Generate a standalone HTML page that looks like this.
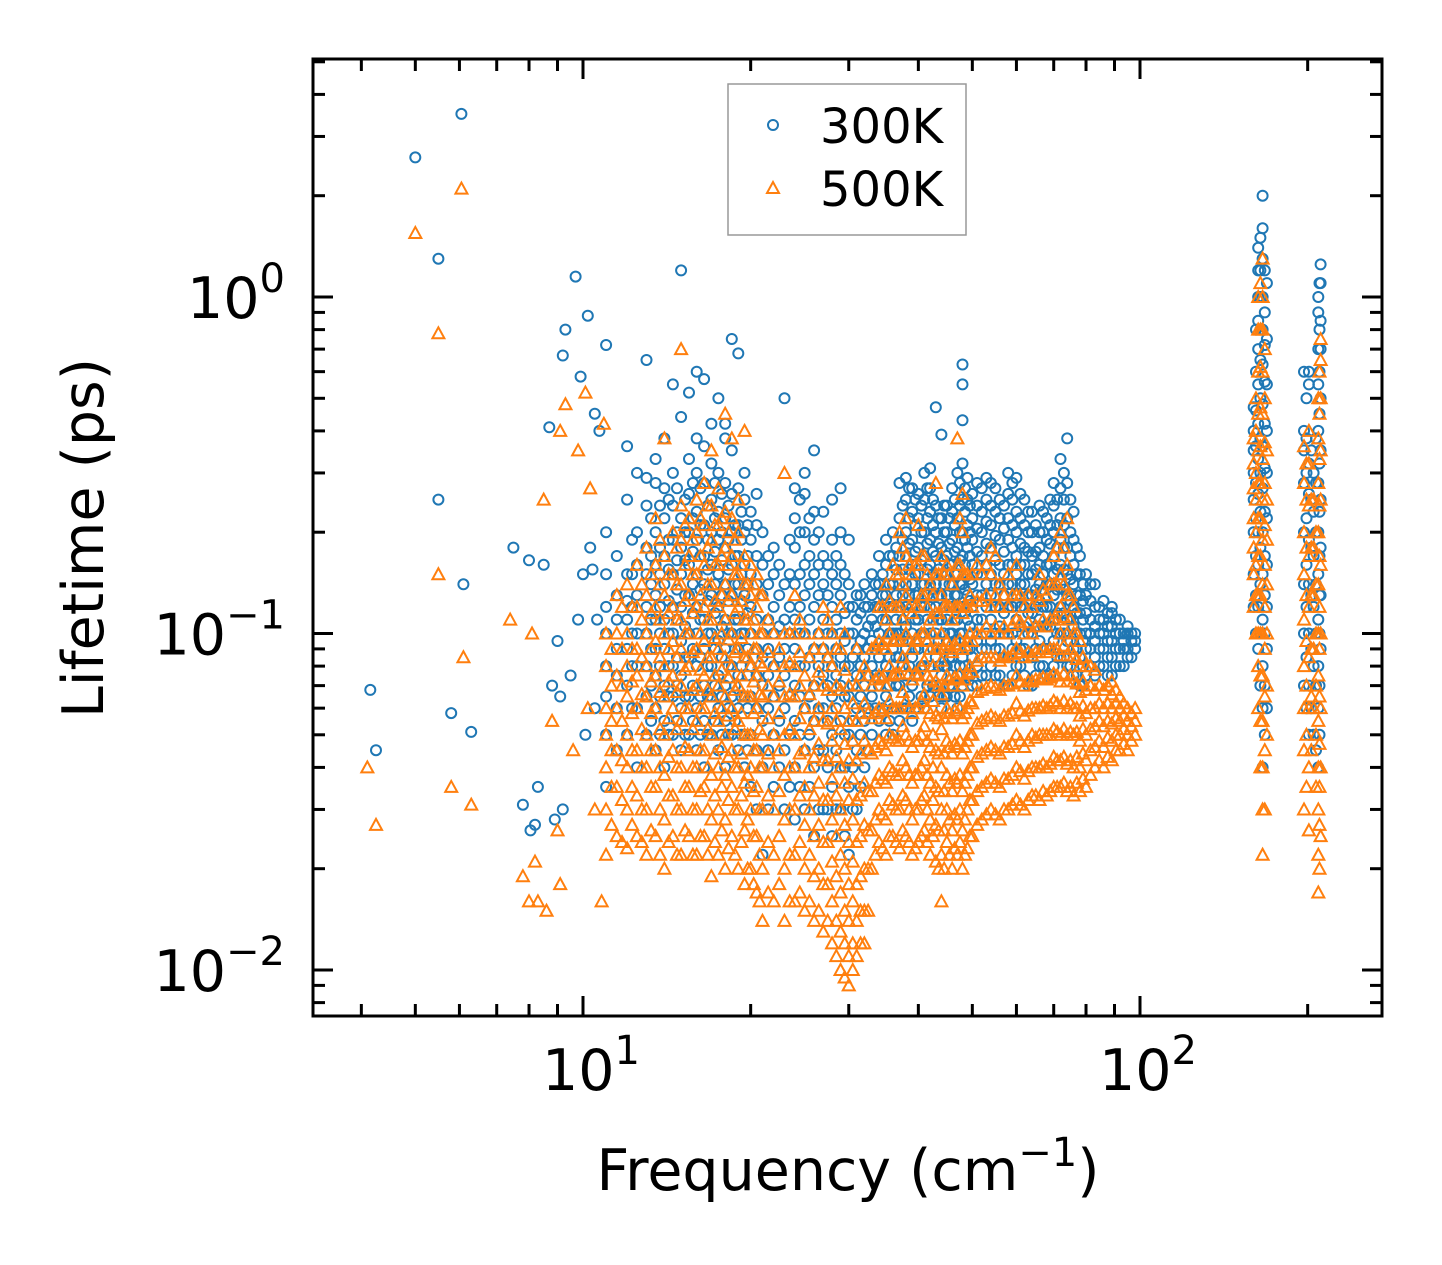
<!DOCTYPE html>
<html><head><meta charset="utf-8">
<style>
html,body{margin:0;padding:0;background:#fff;}
svg{display:block;font-family:"DejaVu Sans","Liberation Sans",sans-serif;}
</style></head>
<body>
<svg id="chart" width="1442" height="1265" viewBox="0 0 1442 1265" xmlns="http://www.w3.org/2000/svg">
<rect width="1442" height="1265" fill="#fff"/>
<defs><clipPath id="plotclip"><rect x="313" y="59" width="1069" height="957"/></clipPath></defs>
<g id="marks" clip-path="url(#plotclip)"></g>
<g id="axes"></g>
<rect x="313" y="59" width="1069" height="957" fill="none" stroke="#000" stroke-width="3"/>
<g>
<rect x="728" y="84" width="238" height="151" fill="#fff" fill-opacity="0.8" stroke="#999" stroke-width="1.5"/>
<circle cx="773" cy="125" r="5" fill="none" stroke="#1f77b4" stroke-width="2"/>
<text x="820" y="143" font-size="48">300K</text>
<polygon points="773,182 779,193 767,193" fill="none" stroke="#ff7f0e" stroke-width="2"/>
<text x="820" y="206" font-size="48">500K</text>
</g>
<text x="848" y="1190" font-size="57" text-anchor="middle">Frequency (cm<tspan dy="-24" font-size="40">−1</tspan><tspan dy="24">)</tspan></text>
<text transform="translate(103,538) rotate(-90)" font-size="57" text-anchor="middle">Lifetime (ps)</text>
</svg>
<script>
const xTickVals = [10, 100];
const xTickLabels = ["1", "2"];
const yTickVals = [1, 0.1, 0.01];
const yTickLabels = ["0", "−1", "−2"];

const blueOutliers = [[4.15,0.068],[4.25,0.045],[5.0,2.6],[5.5,1.3],[5.5,0.25],[5.8,0.058],[6.05,3.5],[6.1,0.14],[6.3,0.051],[7.5,0.18],[7.8,0.031],[8.0,0.165],[8.05,0.026],[8.2,0.027],[8.3,0.035],[8.5,0.16],[8.7,0.41],[8.8,0.07],[9.0,0.095],[9.1,0.065],[9.2,0.67],[9.3,0.80],[9.5,0.075],[9.7,1.15],[9.8,0.11],[9.9,0.58],[10.0,0.15],[10.2,0.88],[10.3,0.18],[10.5,0.45],[10.7,0.40],[11.0,0.72],[10.4,0.155],[10.5,0.06],[9.2,0.03],[8.9,0.028],[10.1,0.05],[10.6,0.11]];
const orangeOutliers = [[4.1,0.04],[4.25,0.027],[5.0,1.55],[5.5,0.78],[5.5,0.15],[5.8,0.035],[6.05,2.1],[6.1,0.085],[6.3,0.031],[7.4,0.11],[7.8,0.019],[8.0,0.016],[8.1,0.1],[8.2,0.021],[8.3,0.016],[8.5,0.25],[8.6,0.015],[8.8,0.055],[9.0,0.026],[9.1,0.018],[9.3,0.48],[9.1,0.4],[9.8,0.35],[10.1,0.52],[10.3,0.27],[10.9,0.42],[10.8,0.016],[9.6,0.045],[10.2,0.06],[10.5,0.03]];

const blueCols = [
[11.0,[.035,.05,.065,.08,.1,.12,.15,.2]],
[11.5,[.045,.06,.075,.09,.11,.13,.17]],
[12.0,[.05,.07,.09,.11,.125,.15,.25,.36]],
[12.5,[.04,.06,.08,.1,.13,.16,.2,.3]],
[13.0,[.05,.065,.08,.1,.12,.15,.18,.24,.29,.65]],
[13.5,[.045,.06,.075,.09,.11,.13,.16,.2,.28,.33]],
[14.0,[.04,.055,.07,.09,.11,.14,.17,.22,.27,.38]],
[14.5,[.05,.065,.08,.1,.12,.15,.19,.24,.3,.55]],
[15.0,[.045,.06,.075,.095,.12,.15,.18,.22,.44,1.2]],
[15.5,[.05,.065,.085,.1,.13,.16,.2,.26,.33,.52]],
[16.0,[.045,.06,.08,.1,.12,.15,.19,.23,.3,.38,.6]],
[16.5,[.04,.055,.07,.09,.11,.14,.17,.21,.28,.36,.57]],
[17.0,[.05,.065,.08,.1,.13,.16,.2,.25,.32,.42]],
[17.5,[.045,.06,.075,.095,.12,.15,.19,.23,.3,.5]],
[18.0,[.04,.055,.07,.09,.11,.14,.18,.22,.28,.38,.42]],
[18.5,[.05,.065,.08,.1,.13,.16,.2,.26,.35,.75]],
[19.0,[.045,.06,.075,.09,.11,.14,.17,.21,.27,.68]],
[19.5,[.04,.05,.065,.085,.1,.13,.16,.2,.25,.3]],
[20.0,[.035,.05,.065,.08,.1,.12,.15,.19,.23]],
[20.5,[.03,.045,.06,.075,.09,.11,.14,.17,.21,.26]],
[21.0,[.022,.04,.055,.07,.085,.1,.13,.16,.2]],
[22.0,[.035,.05,.065,.08,.1,.12,.15,.18]],
[23.0,[.03,.045,.06,.075,.09,.11,.14,.5]],
[24.0,[.028,.04,.055,.07,.09,.11,.14,.18,.22,.27]],
[25.0,[.03,.045,.06,.08,.1,.13,.16,.2,.26,.3]],
[26.0,[.025,.04,.055,.07,.09,.12,.15,.19,.23,.35]],
[27.0,[.03,.045,.06,.075,.09,.11,.14,.17,.23]],
[28.0,[.025,.035,.05,.065,.08,.1,.12,.15,.19,.25]],
[29.0,[.03,.04,.055,.07,.085,.1,.13,.16,.2,.27]],
[30.0,[.022,.035,.05,.065,.08,.1,.12,.14,.19]],
[31.0,[.03,.045,.06,.075,.09,.11,.13]],
[32.0,[.04,.055,.07,.085,.1,.12,.14]],
[33.0,[.05,.065,.08,.095,.11,.13,.15]],
[34.0,[.055,.07,.085,.1,.12,.14,.17]],
[35.0,[.05,.065,.08,.095,.11,.13,.16,.19]],
[36.0,[.05,.06,.075,.09,.1,.12,.14,.17,.2]],
[37.0,[.055,.07,.085,.1,.12,.14,.17,.22,.28]],
[38.0,[.06,.075,.09,.105,.12,.14,.17,.2,.25,.29]],
[39.0,[.055,.07,.085,.1,.12,.14,.16,.19,.23,.27]],
[40.0,[.06,.075,.09,.11,.13,.15,.18,.22,.26]],
[41.0,[.06,.08,.1,.12,.14,.17,.2,.25,.3]],
[42.0,[.065,.08,.1,.12,.14,.16,.19,.23,.27,.31]],
[43.0,[.07,.085,.1,.12,.14,.17,.2,.24,.47]],
[44.0,[.06,.075,.09,.11,.13,.15,.18,.22,.39]],
[45.0,[.065,.08,.095,.11,.13,.15,.17,.2,.24]],
[46.0,[.07,.085,.1,.12,.14,.16,.19,.23,.27]],
[47.0,[.06,.075,.09,.11,.13,.15,.18,.22,.3]],
[48.0,[.07,.085,.1,.12,.14,.17,.2,.25,.32,.43,.55,.63]],
[49.0,[.075,.09,.11,.13,.15,.18,.21,.25,.29]],
[50.0,[.07,.085,.1,.12,.14,.16,.19,.22,.26]],
[52.0,[.075,.09,.11,.13,.15,.17,.2,.23,.27]],
[54.0,[.08,.095,.11,.13,.15,.18,.21,.24,.28]],
[56.0,[.075,.09,.105,.12,.14,.16,.19,.22,.25]],
[58.0,[.07,.085,.1,.12,.14,.16,.19,.22,.26,.3]],
[60.0,[.08,.095,.11,.13,.15,.17,.2,.23,.29]],
[62.0,[.075,.09,.105,.12,.14,.16,.18,.21,.25]],
[64.0,[.07,.085,.1,.115,.13,.15,.17,.2,.23]],
[66.0,[.08,.095,.11,.125,.14,.16,.18,.2,.24]],
[68.0,[.075,.09,.105,.12,.14,.16,.19,.22]],
[70.0,[.08,.095,.11,.13,.15,.17,.2,.24,.28]],
[72.0,[.085,.1,.12,.14,.16,.19,.22,.27,.33]],
[74.0,[.08,.095,.11,.13,.15,.18,.22,.28,.38]],
[76.0,[.075,.09,.105,.12,.14,.16,.19,.23]],
[78.0,[.07,.085,.1,.115,.13,.15,.17]],
[80.0,[.075,.09,.1,.115,.13,.15]],
[83.0,[.075,.085,.095,.105,.12,.14]],
[86.0,[.08,.09,.1,.11,.125]],
[89.0,[.075,.085,.095,.105,.115,.12]],
[92.0,[.08,.09,.1,.11]],
[95.0,[.085,.09,.1,.105]],
[98.0,[.09,.095,.1]],
[160,[.12,.15,.2,.25,.3,.35,.4,.47]],
[163,[.09,.12,.16,.2,.26,.33,.42,.55,.7,.85,1.0,1.2,1.4]],
[166,[.04,.06,.08,.11,.15,.2,.27,.36,.48,.63,.8,1.0,1.3,1.6,2.0]],
[169,[.06,.09,.12,.16,.22,.3,.4,.55,.75,1.1]],
[197,[.07,.1,.14,.2,.28,.35,.4,.6]],
[201,[.05,.07,.1,.14,.19,.26,.32,.55,.6]],
[205,[.05,.08,.12,.17,.23,.3]],
[209,[.04,.06,.08,.11,.15,.2,.28,.4,.55,.7,.9,1.0]],
[211,[.09,.13,.18,.25,.35,.5,.7,.85,1.1,1.25]]
];

const blueCols2 = [
[12.25,[.06,.08,.1,.12,.15,.19]],
[13.25,[.055,.07,.09,.11,.14,.17,.22]],
[13.75,[.05,.065,.08,.1,.12,.15,.18,.24]],
[14.25,[.05,.065,.08,.1,.125,.155,.19,.25]],
[14.75,[.055,.07,.085,.11,.135,.165,.2,.27]],
[15.25,[.05,.065,.085,.105,.13,.165,.2,.25]],
[15.75,[.055,.07,.09,.115,.14,.175,.22,.28]],
[16.25,[.05,.065,.085,.11,.135,.17,.21,.27]],
[16.75,[.05,.065,.08,.1,.125,.155,.19,.24]],
[17.25,[.055,.07,.09,.115,.14,.175,.22,.28]],
[17.75,[.05,.065,.085,.105,.13,.165,.2,.26]],
[18.25,[.05,.06,.08,.1,.125,.155,.19,.24]],
[18.75,[.055,.07,.09,.11,.14,.17,.21]],
[19.25,[.05,.065,.08,.1,.125,.15,.19,.23]],
[19.75,[.045,.06,.075,.09,.115,.14,.17,.21]],
[21.5,[.03,.045,.06,.075,.09,.11,.14,.17]],
[22.5,[.04,.055,.07,.085,.105,.13,.16]],
[23.5,[.035,.05,.065,.08,.1,.12,.15,.19]],
[24.5,[.035,.05,.065,.08,.1,.12,.15,.2,.25]],
[25.5,[.035,.05,.065,.085,.11,.14,.17,.22]],
[26.5,[.03,.045,.06,.08,.1,.13,.16,.2]],
[27.5,[.03,.04,.055,.07,.085,.1,.13,.16]],
[28.5,[.03,.045,.06,.075,.09,.11,.14,.17]],
[29.5,[.025,.04,.05,.065,.08,.095,.115,.15]],
[30.5,[.03,.04,.055,.07,.085,.1,.12]],
[31.5,[.035,.05,.065,.08,.095,.115,.13]],
[32.5,[.045,.06,.075,.09,.105,.12]],
[33.5,[.06,.075,.09,.105,.12,.14]],
[34.5,[.06,.075,.09,.11,.13,.15]],
[35.5,[.055,.07,.085,.1,.12,.14,.17]],
[36.5,[.06,.07,.085,.1,.11,.13,.155,.18]],
[37.5,[.06,.08,.095,.11,.13,.155,.19,.24]],
[38.5,[.065,.08,.095,.115,.13,.155,.185,.22,.27]],
[39.5,[.06,.075,.09,.11,.13,.15,.175,.21,.25]],
[40.5,[.065,.08,.1,.12,.14,.165,.2,.24]],
[41.5,[.07,.09,.11,.13,.155,.185,.22,.27]],
[42.5,[.07,.09,.11,.13,.15,.175,.21,.25]],
[43.5,[.065,.08,.095,.11,.13,.155,.185,.22]],
[44.5,[.065,.08,.1,.12,.14,.165,.2,.24]],
[45.5,[.07,.085,.1,.12,.14,.16,.185,.22]],
[46.5,[.065,.08,.095,.11,.13,.15,.175,.21,.25]],
[47.5,[.065,.08,.1,.12,.14,.165,.2,.24,.28]],
[48.5,[.08,.095,.115,.135,.16,.19,.23,.27]],
[49.5,[.075,.09,.105,.125,.145,.17,.2,.24]],
[51,[.07,.08,.095,.11,.13,.15,.175,.205,.24,.28]],
[53,[.075,.09,.1,.12,.14,.16,.185,.215,.25,.29]],
[55,[.075,.09,.1,.12,.14,.165,.195,.23,.27]],
[57,[.07,.085,.1,.115,.13,.15,.175,.205,.24]],
[59,[.075,.09,.1,.12,.14,.16,.18,.21,.25,.28]],
[61,[.08,.09,.105,.12,.14,.16,.185,.22,.26]],
[63,[.07,.085,.1,.115,.13,.15,.175,.2,.23]],
[65,[.075,.09,.105,.12,.135,.155,.175,.21]],
[67,[.08,.09,.105,.12,.135,.15,.17,.2,.23]],
[69,[.075,.09,.105,.12,.14,.16,.185,.21,.25]],
[71,[.085,.1,.115,.135,.155,.18,.21,.25]],
[73,[.085,.1,.115,.135,.155,.18,.21,.25,.3]],
[75,[.08,.095,.11,.125,.145,.17,.2,.25]],
[77,[.075,.09,.1,.115,.13,.15,.18]],
[79,[.07,.08,.095,.11,.125,.14]],
[81.5,[.08,.09,.1,.11,.125,.14]],
[84.5,[.08,.09,.1,.11,.12]],
[87.5,[.075,.085,.095,.105,.115]],
[90.5,[.08,.09,.1,.11]],
[93.5,[.08,.09,.095,.1]],
[96.5,[.085,.095,.1]],
[161.5,[.1,.13,.17,.22,.28,.36,.46,.6,.8]],
[164.5,[.07,.1,.14,.18,.23,.3,.38,.5,.65,.8,1.0,1.2,1.5]],
[167.5,[.05,.07,.1,.13,.17,.23,.31,.42,.56,.72,.9,1.2]],
[199,[.06,.085,.12,.16,.22,.3,.38,.5]],
[203,[.06,.09,.13,.18,.25,.35]],
[207,[.045,.07,.1,.14,.2,.28,.38]],
[210,[.05,.07,.1,.13,.17,.23,.32,.45,.6,.8,1.1]]
];

const orangeCols = [
[11.0,[.022,.03,.04,.05,.06,.08,.1]],
[11.5,[.025,.035,.045,.06,.075,.1,.13]],
[12.0,[.023,.03,.04,.05,.065,.08,.1,.14]],
[12.5,[.025,.033,.045,.06,.075,.09,.12,.16]],
[13.0,[.022,.03,.04,.05,.065,.08,.1,.13,.18]],
[13.5,[.025,.035,.045,.06,.075,.095,.12,.16,.22]],
[14.0,[.02,.028,.038,.05,.065,.08,.1,.13,.17,.38]],
[14.5,[.025,.033,.045,.06,.075,.095,.12,.15,.2]],
[15.0,[.022,.03,.04,.055,.07,.09,.11,.14,.19,.24,.7]],
[15.5,[.025,.035,.045,.06,.08,.1,.13,.17,.22]],
[16.0,[.022,.03,.04,.055,.07,.09,.12,.15,.2,.25]],
[16.5,[.025,.035,.045,.06,.075,.095,.12,.16,.21,.28]],
[17.0,[.019,.028,.038,.05,.065,.085,.11,.14,.19,.24,.35]],
[17.5,[.022,.03,.04,.055,.07,.09,.12,.16,.21,.27]],
[18.0,[.02,.028,.038,.05,.065,.085,.11,.14,.18,.23,.45]],
[18.5,[.025,.035,.045,.06,.08,.1,.13,.17,.22,.38]],
[19.0,[.02,.03,.04,.055,.07,.09,.12,.15,.2,.25]],
[19.5,[.018,.026,.036,.05,.065,.085,.11,.14,.17,.4]],
[20.0,[.02,.03,.04,.05,.065,.08,.1,.13,.16]],
[20.5,[.017,.025,.035,.045,.06,.075,.09,.12,.15]],
[21.0,[.014,.02,.03,.04,.05,.065,.08,.1,.13]],
[22.0,[.016,.022,.03,.04,.05,.065,.08,.1]],
[23.0,[.014,.02,.028,.038,.05,.065,.08,.1,.3]],
[24.0,[.016,.022,.03,.04,.05,.065,.08,.1,.13]],
[25.0,[.015,.02,.027,.035,.045,.06,.075,.1]],
[26.0,[.014,.019,.025,.033,.043,.055,.07,.09]],
[27.0,[.013,.018,.024,.032,.042,.055,.07,.09,.12]],
[28.0,[.012,.016,.021,.028,.037,.048,.06,.08,.1]],
[29.0,[.01,.013,.017,.022,.03,.04,.052,.068,.09,.12]],
[30.0,[.009,.011,.014,.018,.024,.032,.042,.055,.07]],
[31.0,[.011,.014,.018,.024,.032,.042,.055,.07,.09]],
[32.0,[.012,.015,.02,.027,.036,.048,.062,.08]],
[33.0,[.02,.026,.034,.044,.056,.07,.09]],
[34.0,[.024,.03,.038,.048,.06,.075,.095,.12]],
[35.0,[.022,.028,.036,.045,.056,.07,.09,.11,.14]],
[36.0,[.025,.031,.039,.049,.06,.075,.095,.12,.16]],
[37.0,[.023,.03,.038,.048,.06,.076,.095,.12,.15,.2]],
[38.0,[.025,.032,.04,.05,.063,.08,.1,.13,.17,.22]],
[39.0,[.022,.028,.036,.046,.058,.073,.09,.115,.15]],
[40.0,[.024,.03,.038,.048,.06,.075,.095,.12,.16,.21]],
[41.0,[.026,.033,.042,.053,.066,.083,.1,.13,.17]],
[42.0,[.022,.028,.036,.046,.058,.073,.09,.11,.14]],
[43.0,[.021,.027,.035,.045,.057,.072,.09,.115,.15,.28]],
[44.0,[.016,.022,.03,.04,.052,.066,.083,.1,.13,.17]],
[45.0,[.024,.03,.038,.048,.06,.075,.095,.12,.16]],
[46.0,[.02,.026,.034,.044,.056,.07,.088,.11,.14]],
[47.0,[.022,.028,.036,.046,.058,.073,.09,.12,.16,.38]],
[48.0,[.02,.026,.034,.044,.056,.07,.09,.115,.15,.2,.26]],
[49.0,[.023,.03,.038,.048,.06,.076,.095,.12,.15]],
[50.0,[.025,.032,.04,.05,.062,.077,.095,.12,.15]],
[52.0,[.028,.035,.044,.055,.068,.085,.1,.125,.15]],
[54.0,[.03,.037,.046,.057,.07,.085,.1,.12,.15,.18]],
[56.0,[.028,.035,.044,.055,.068,.083,.1,.12,.14]],
[58.0,[.03,.037,.046,.057,.07,.085,.1,.12,.15]],
[60.0,[.032,.04,.05,.062,.075,.09,.11,.13,.16]],
[62.0,[.03,.037,.046,.057,.07,.085,.1,.12]],
[64.0,[.033,.04,.05,.06,.072,.086,.1,.12]],
[66.0,[.032,.04,.05,.06,.073,.088,.105,.125,.15]],
[68.0,[.033,.04,.05,.06,.073,.088,.105,.13]],
[70.0,[.035,.043,.052,.063,.076,.09,.11,.14,.17]],
[72.0,[.035,.042,.05,.06,.072,.086,.1,.12,.15,.2]],
[74.0,[.034,.041,.05,.06,.072,.086,.1,.13,.16,.22]],
[76.0,[.033,.04,.05,.06,.072,.086,.1,.12]],
[78.0,[.034,.04,.048,.057,.067,.08,.095]],
[80.0,[.035,.042,.05,.058,.068,.08]],
[83.0,[.04,.046,.053,.06,.068,.078]],
[86.0,[.04,.046,.053,.06,.068]],
[89.0,[.042,.048,.054,.06,.066,.072]],
[92.0,[.045,.05,.055,.06,.065]],
[95.0,[.045,.05,.055,.06]],
[98.0,[.05,.055,.06]],
[160,[.12,.15,.18,.22,.27,.32,.38]],
[163,[.06,.08,.1,.13,.17,.22,.28,.35,.45,.6,.8,1.0]],
[166,[.022,.03,.04,.055,.075,.1,.14,.19,.25,.33,.45,.6,.8,1.0,1.3]],
[169,[.05,.07,.1,.14,.19,.25,.35]],
[197,[.03,.045,.06,.08,.11,.15,.2,.28,.36]],
[201,[.026,.04,.06,.085,.12,.17,.24,.32,.4]],
[205,[.06,.09,.13,.18,.25]],
[209,[.017,.022,.03,.04,.055,.075,.1,.14,.2,.28,.38,.5]],
[211,[.025,.04,.06,.1,.16,.25,.35,.5,.65,.75]]
];

const orangeCols2 = [
[11.25,[.027,.035,.045,.055,.07,.09]],
[11.75,[.024,.032,.042,.055,.07,.09,.12]],
[12.25,[.027,.035,.045,.058,.072,.09,.12]],
[12.75,[.024,.03,.04,.052,.066,.085,.11,.14]],
[13.25,[.026,.035,.045,.058,.072,.09,.115,.15]],
[13.75,[.022,.03,.04,.052,.067,.085,.11,.14,.19]],
[14.25,[.024,.033,.043,.056,.072,.09,.115,.15]],
[14.75,[.022,.03,.04,.052,.067,.085,.11,.14,.18]],
[15.25,[.026,.035,.046,.06,.078,.1,.125,.16,.21]],
[15.75,[.022,.03,.04,.052,.068,.088,.115,.15,.19]],
[16.25,[.025,.034,.045,.06,.078,.1,.13,.17,.22]],
[16.75,[.022,.03,.04,.052,.068,.085,.11,.14,.18,.24]],
[17.25,[.024,.033,.044,.058,.075,.097,.125,.16,.21]],
[17.75,[.026,.035,.046,.06,.078,.1,.13,.17,.22]],
[18.25,[.023,.032,.043,.057,.074,.096,.125,.16,.2]],
[18.75,[.022,.03,.04,.052,.068,.088,.115,.15,.19]],
[19.25,[.024,.033,.044,.058,.075,.097,.125,.16]],
[19.75,[.02,.028,.038,.05,.065,.085,.11,.14]],
[20.25,[.018,.025,.034,.045,.058,.072,.09,.11,.14]],
[20.75,[.016,.022,.03,.04,.052,.066,.082,.1,.13]],
[21.5,[.017,.024,.033,.044,.056,.07,.088,.11]],
[22.5,[.018,.025,.034,.045,.058,.072,.09]],
[23.5,[.016,.022,.03,.04,.052,.066,.082,.1]],
[24.5,[.017,.024,.033,.044,.056,.07,.088,.11]],
[25.5,[.016,.022,.03,.04,.052,.066,.085]],
[26.5,[.015,.02,.027,.036,.047,.06,.077,.1]],
[27.5,[.014,.018,.024,.032,.042,.054,.068,.085,.11]],
[28.5,[.011,.014,.019,.025,.033,.043,.055,.07,.09]],
[29.5,[.0095,.012,.015,.02,.027,.036,.047,.06,.078,.1]],
[30.5,[.01,.012,.016,.021,.028,.037,.048,.062]],
[31.5,[.012,.015,.019,.025,.033,.044,.058,.075]],
[32.5,[.015,.02,.026,.034,.045,.058,.075]],
[33.5,[.022,.028,.036,.046,.058,.073,.092]],
[34.5,[.023,.029,.037,.047,.059,.074,.093,.12]],
[35.5,[.025,.032,.04,.05,.063,.08,.1,.125]],
[36.5,[.024,.03,.038,.048,.06,.076,.096,.12,.15]],
[37.5,[.026,.033,.042,.053,.067,.085,.11,.14,.18]],
[38.5,[.024,.03,.038,.048,.06,.076,.096,.12,.16]],
[39.5,[.023,.03,.038,.048,.06,.076,.096,.12,.16]],
[40.5,[.025,.032,.04,.05,.063,.08,.1,.13,.17]],
[41.5,[.024,.03,.038,.048,.06,.075,.095,.12,.15]],
[42.5,[.025,.032,.04,.05,.063,.08,.1,.13]],
[43.5,[.02,.026,.034,.044,.056,.07,.09,.115,.15]],
[44.5,[.02,.026,.034,.044,.056,.07,.09,.12,.15]],
[45.5,[.022,.028,.036,.046,.058,.073,.092,.12,.15]],
[46.5,[.023,.029,.037,.047,.059,.074,.093,.12]],
[47.5,[.024,.03,.038,.048,.06,.076,.096,.12,.16,.22]],
[48.5,[.022,.028,.036,.046,.058,.073,.092,.12,.15]],
[49.5,[.025,.032,.04,.05,.063,.08,.1,.13]],
[51,[.027,.034,.043,.054,.067,.083,.1,.125,.16]],
[53,[.029,.036,.045,.056,.069,.085,.105,.13,.16]],
[55,[.029,.036,.045,.056,.069,.085,.105,.13,.17]],
[57,[.03,.037,.046,.057,.07,.086,.105,.13]],
[59,[.031,.038,.047,.058,.071,.087,.106,.13]],
[61,[.031,.039,.048,.059,.072,.088,.108,.13]],
[63,[.032,.039,.048,.059,.072,.088,.108,.13]],
[65,[.033,.04,.049,.06,.073,.088,.105,.13]],
[67,[.034,.041,.05,.061,.074,.09,.11,.135]],
[69,[.034,.041,.05,.061,.074,.09,.11,.14]],
[71,[.035,.042,.051,.062,.075,.09,.11,.14,.18]],
[73,[.036,.043,.052,.063,.076,.092,.112,.14,.18]],
[75,[.035,.042,.051,.062,.075,.09,.11,.13]],
[77,[.036,.043,.051,.06,.071,.084,.1]],
[79,[.037,.044,.052,.061,.072,.085]],
[81.5,[.038,.045,.052,.06,.07,.08]],
[84.5,[.042,.048,.055,.062,.07]],
[87.5,[.043,.049,.055,.062,.07]],
[90.5,[.045,.05,.056,.062,.068]],
[93.5,[.047,.052,.057,.062]],
[96.5,[.048,.053,.058]],
[161.5,[.1,.13,.16,.2,.25,.3,.4,.5]],
[164.5,[.04,.055,.075,.1,.13,.17,.22,.28,.36,.47,.62,.8,1.1]],
[167.5,[.03,.045,.065,.09,.12,.16,.21,.28,.37,.5,.7]],
[199,[.035,.05,.07,.095,.13,.18,.25,.32]],
[203,[.045,.065,.09,.13,.18,.25]],
[207,[.035,.05,.07,.1,.14,.2]],
[210,[.02,.027,.035,.047,.065,.09,.12,.17,.24,.33,.45,.6]]
];

const X0 = 583, XD = 557, Y0 = 297, YD = 336.5;
function xScale(v){ return X0 + (Math.log10(v) - 1) * XD; }
function yScale(v){ return Y0 - Math.log10(v) * YD; }

const NS = "http://www.w3.org/2000/svg";
const marks = document.getElementById("marks");
const axes = document.getElementById("axes");

function addCircle(f, l){
  const c = document.createElementNS(NS, "circle");
  c.setAttribute("cx", xScale(f).toFixed(1));
  c.setAttribute("cy", yScale(l).toFixed(1));
  c.setAttribute("r", "5");
  c.setAttribute("fill", "none");
  c.setAttribute("stroke", "#1f77b4");
  c.setAttribute("stroke-width", "2");
  
  
  marks.appendChild(c);
}
function addTri(f, l){
  const x = xScale(f), y = yScale(l);
  const p = document.createElementNS(NS, "polygon");
  p.setAttribute("points", `${x},${y-6} ${x+6},${y+5} ${x-6},${y+5}`);
  p.setAttribute("fill", "none");
  p.setAttribute("stroke", "#ff7f0e");
  p.setAttribute("stroke-width", "2");
  
  
  marks.appendChild(p);
}
blueOutliers.forEach(d => addCircle(d[0], d[1]));
blueCols.forEach(c => c[1].forEach(l => addCircle(c[0], l)));
blueCols2.forEach(c => c[1].forEach(l => addCircle(c[0], l)));
orangeOutliers.forEach(d => addTri(d[0], d[1]));
orangeCols.forEach(c => c[1].forEach(l => addTri(c[0], l)));
orangeCols2.forEach(c => c[1].forEach(l => addTri(c[0], l)));

function line(x1,y1,x2,y2,name){
  const e = document.createElementNS(NS, "line");
  e.setAttribute("x1",x1); e.setAttribute("y1",y1); e.setAttribute("x2",x2); e.setAttribute("y2",y2);
  e.setAttribute("stroke","#000"); e.setAttribute("stroke-width","3");
  
  
  axes.appendChild(e);
}
const L=313,R=1382,T=59,B=1016;
for (let d = 1; d <= 100; d *= 10){
  for (let m = 1; m <= 9; m++){
    const v = d*m;
    const x = xScale(v);
    if (x < L+1 || x > R-1) continue;
    const len = (m===1) ? 20 : 12;
    line(x,B,x,B-len,'x-tick'); line(x,T,x,T+len,'x-tick-top');
  }
}
for (let d = 0.001; d <= 10; d *= 10){
  for (let m = 1; m <= 9; m++){
    const v = d*m;
    const y = yScale(v);
    if (y < T+1 || y > B-1) continue;
    const len = (m===1) ? 20 : 12;
    line(L,y,L+len,y,'y-tick'); line(R,y,R-len,y,'y-tick-right');
  }
}
function label(x,y,anchor,sup,name){
  const t = document.createElementNS(NS,"text");
  t.setAttribute("x",x); t.setAttribute("y",y); t.setAttribute("text-anchor",anchor);
  t.setAttribute("font-size","57");
  
  
  t.innerHTML = `10<tspan dy="-26" font-size="40">${sup}</tspan>`;
  axes.appendChild(t);
}
xTickVals.forEach((v,i) => label(xScale(v)+8, 1090, "middle", xTickLabels[i], 'x-tick-label'));
yTickVals.forEach((v,i) => label(285, yScale(v)+21, "end", yTickLabels[i], 'y-tick-label'));
</script>
</body></html>
